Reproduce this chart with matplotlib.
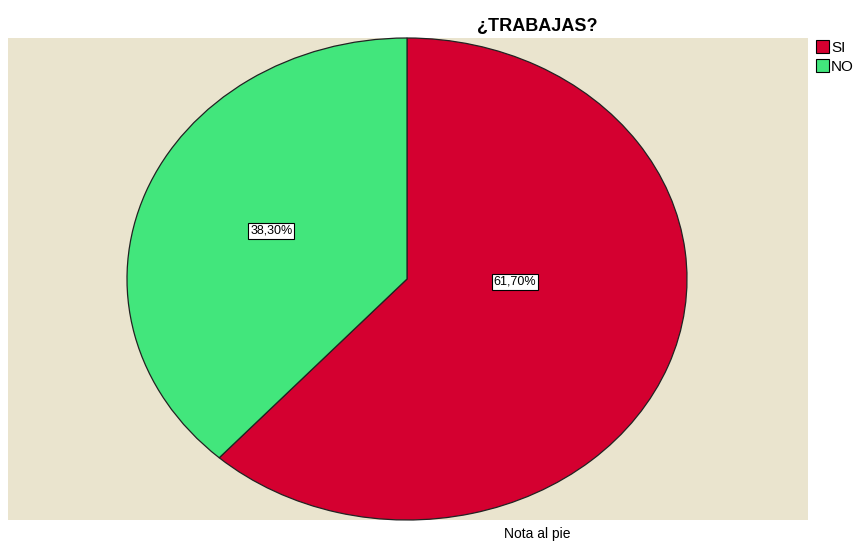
import matplotlib
matplotlib.use('Agg')
import matplotlib.pyplot as plt
from matplotlib.patches import Patch

plt.rcParams['font.family'] = ['Liberation Sans', 'DejaVu Sans']

categories = ['SI', 'NO']
values = [61.70, 38.30]
colors = ['#D40030', '#42E67C']
label_pos = [(0.385, -0.012), (-0.485, 0.2)]

W, H = 855, 542
fig = plt.figure(figsize=(W / 100, H / 100), dpi=100)
fig.patch.set_facecolor('white')

# plot area (beige box)
x0, x1, y0, y1 = 8, 808, 38, 520
ax = fig.add_axes([x0 / W, 1 - y1 / H, (x1 - x0) / W, (y1 - y0) / H])

wedges, _ = ax.pie(values, colors=colors, startangle=90, counterclock=False,
                   wedgeprops=dict(edgecolor='#222222', linewidth=0.9))
ax.set_frame_on(True)
ax.set_facecolor('#EAE4CE')
ax.set_aspect('auto')
cx, rx, ry = 407, 280, 241
ax.set_xlim(-(cx - x0) / rx, (x1 - cx) / rx)
ax.set_ylim(-1.0, 1.0)
for s in ax.spines.values():
    s.set_visible(False)
ax.set_xticks([])
ax.set_yticks([])

for v, (lx, ly) in zip(values, label_pos):
    ax.text(lx, ly, ('%.2f%%' % v).replace('.', ','), ha='center', va='center',
            fontsize=9, color='black',
            bbox=dict(boxstyle='square,pad=0.15', facecolor='white',
                      edgecolor='black', linewidth=0.8))

fig.text(537 / W, 1 - 26 / H, '¿TRABAJAS?', ha='center', va='center',
         fontsize=13, fontweight='bold')

handles = [Patch(facecolor=c, edgecolor='black', linewidth=0.8) for c in colors]
fig.legend(handles, categories, loc='upper left', bbox_to_anchor=(805 / W, 1 - 29 / H),
           frameon=False, fontsize=11, handlelength=0.85, handleheight=0.95,
           handletextpad=0.15, labelspacing=0.3, borderpad=0.2)

fig.text(537 / W, 1 - 534 / H, 'Nota al pie', ha='center', va='center', fontsize=10)

fig.savefig('out.png', dpi=100)
